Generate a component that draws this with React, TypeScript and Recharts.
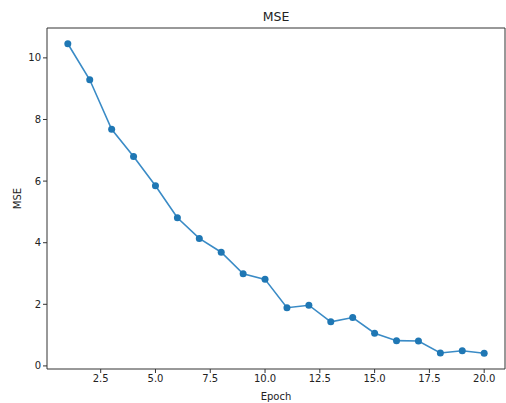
import { LineChart, Line, XAxis, YAxis, Label } from "recharts";

const epochs = [1, 2, 3, 4, 5, 6, 7, 8, 9, 10, 11, 12, 13, 14, 15, 16, 17, 18, 19, 20];
const mse = [
  10.46, 9.29, 7.68, 6.8, 5.85, 4.81, 4.14, 3.69, 2.99, 2.81,
  1.89, 1.97, 1.43, 1.57, 1.06, 0.82, 0.81, 0.42, 0.49, 0.41,
];
const xTicks = [2.5, 5, 7.5, 10, 12.5, 15, 17.5, 20];
const yTicks = [0, 2, 4, 6, 8, 10];

const data = epochs.map((epoch, i) => ({ epoch, mse: mse[i] }));

const FONT = "DejaVu Sans, sans-serif";
const tickStyle = { fill: "#222", fontSize: 10, fontFamily: FONT };

export default function App() {
  return (
    <div style={{ position: "absolute", left: 0, top: 0, width: 506, height: 403, background: "#fff" }}>
      <LineChart
        width={506}
        height={403}
        data={data}
        margin={{ top: 27, right: 0, bottom: 0, left: 0 }}
      >
        <XAxis
          dataKey="epoch"
          type="number"
          domain={[0.05, 20.95]}
          ticks={xTicks}
          tickFormatter={(v: number) => v.toFixed(1)}
          tick={tickStyle}
          tickSize={4}
          tickLine={{ stroke: "#333" }}
          axisLine={{ stroke: "#333" }}
          height={34}
          allowDataOverflow
        >
          <Label value="Epoch" position="insideBottom" offset={3} style={{ fill: "#222", fontSize: 10, fontFamily: FONT }} />
        </XAxis>
        <XAxis
          xAxisId="top"
          dataKey="epoch"
          orientation="top"
          type="number"
          domain={[0.05, 20.95]}
          tick={false}
          tickLine={false}
          axisLine={{ stroke: "#333" }}
          height={1}
          allowDataOverflow
        >
          <Label value="MSE" position="top" offset={6} style={{ fill: "#222", fontSize: 12.5, fontFamily: FONT }} />
        </XAxis>
        <YAxis
          type="number"
          domain={[-0.1, 10.97]}
          ticks={yTicks}
          tick={tickStyle}
          tickSize={4}
          tickLine={{ stroke: "#333" }}
          axisLine={{ stroke: "#333" }}
          width={47}
          allowDataOverflow
        >
          <Label value="MSE" angle={-90} position="insideLeft" offset={17} style={{ fill: "#222", fontSize: 10, fontFamily: FONT, textAnchor: "middle" }} />
        </YAxis>
        <YAxis
          yAxisId="right"
          orientation="right"
          type="number"
          domain={[-0.1, 10.97]}
          tick={false}
          tickLine={false}
          axisLine={{ stroke: "#333" }}
          width={1}
          allowDataOverflow
        />
        <Line
          dataKey="mse"
          stroke="#3a8bc6"
          strokeWidth={1.6}
          dot={{ r: 3.5, fill: "#1f77b4", stroke: "#1f77b4", strokeWidth: 0 }}
          isAnimationActive={false}
        />
      </LineChart>
    </div>
  );
}
